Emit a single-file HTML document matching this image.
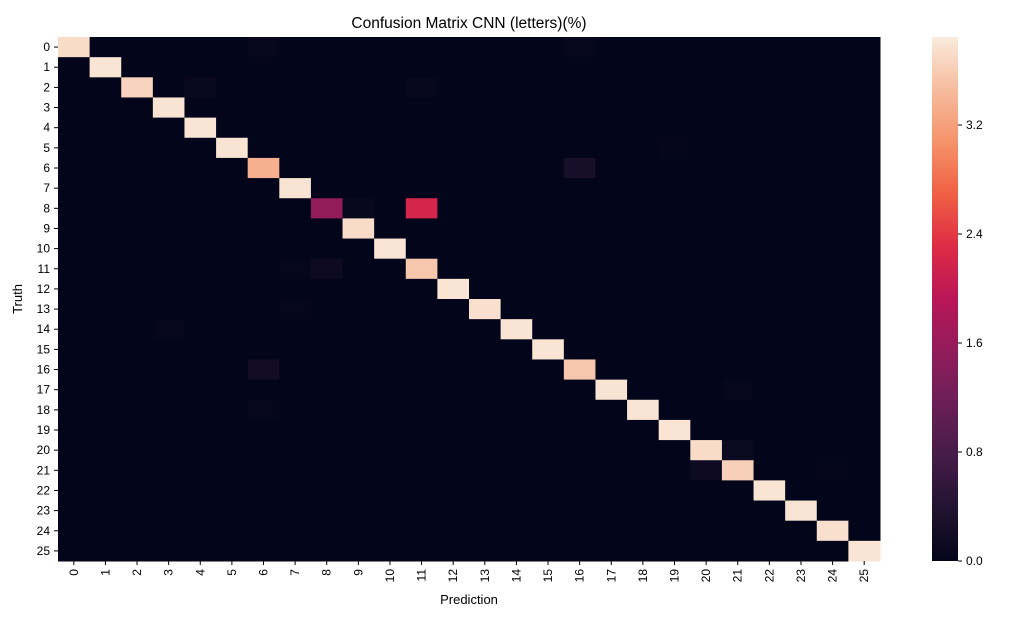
<!DOCTYPE html>
<html><head><meta charset="utf-8"><style>
body{margin:0;background:#fff;font-family:"Liberation Sans",sans-serif;}
</style></head><body>
<svg id="chart" width="1014" height="621" xmlns="http://www.w3.org/2000/svg" font-family="Liberation Sans, sans-serif">
<defs><linearGradient id="rocket" x1="0" y1="1" x2="0" y2="0">
<stop offset="0" stop-color="#03051A"/><stop offset="0.1" stop-color="#221331"/><stop offset="0.2" stop-color="#451C47"/><stop offset="0.3" stop-color="#6A1F56"/><stop offset="0.4" stop-color="#921C5B"/><stop offset="0.5" stop-color="#B91657"/><stop offset="0.6" stop-color="#DD2C45"/><stop offset="0.7" stop-color="#F06043"/><stop offset="0.8" stop-color="#F5936A"/><stop offset="0.9" stop-color="#F6BC9E"/><stop offset="1" stop-color="#FAEBDD"/>
</linearGradient></defs>
<text x="469" y="28" text-anchor="middle" font-size="15.5">Confusion Matrix CNN (letters)(%)</text>
<g id="cells"></g><g id="xt"></g><g id="yt"></g>
<text x="469" y="604" text-anchor="middle" font-size="13">Prediction</text>
<text transform="translate(22,299) rotate(-90)" text-anchor="middle" font-size="13">Truth</text>
<rect x="932" y="37" width="26" height="524" fill="url(#rocket)"/>
<g id="cb"></g>
</svg>
<script>
const labels=[...Array(26).keys()].map(String);
const diag=[3.72,3.8,3.65,3.78,3.8,3.78,3.35,3.78,1.55,3.72,3.8,3.55,3.8,3.75,3.8,3.8,3.55,3.78,3.8,3.8,3.72,3.62,3.8,3.8,3.75,3.8];
const offRows=[0,0,2,2,6,16,11,8,8,20,21,11,13,14,18,5,17,21];
const offCols=[6,16,4,11,16,6,8,11,9,21,20,7,7,3,6,19,21,24];
const offVals=[0.06,0.05,0.08,0.05,0.25,0.2,0.15,2.2,0.05,0.1,0.15,0.04,0.04,0.04,0.04,0.03,0.04,0.03];
const cbTicks=[0,0.8,1.6,2.4,3.2];
const vmax=3.846;
const X0=58,X1=880,Y0=37,Y1=561,n=26,cw=(X1-X0)/n,ch=(Y1-Y0)/n;
const stops=["#03051A","#221331","#451C47","#6A1F56","#921C5B","#B91657","#DD2C45","#F06043","#F5936A","#F6BC9E","#FAEBDD"].map(h=>[1,3,5].map(i=>parseInt(h.substr(i,2),16)));
function color(v){let t=Math.max(0,Math.min(1,v/vmax))*10;let i=Math.min(9,Math.floor(t)),f=t-i;
const c=stops[i].map((a,k)=>Math.round(a+(stops[i+1][k]-a)*f));return `rgb(${c})`;}
const ns="http://www.w3.org/2000/svg";
const M=[...Array(n)].map(()=>Array(n).fill(0));
diag.forEach((v,i)=>M[i][i]=v);
offRows.forEach((r,k)=>M[r][offCols[k]]=offVals[k]);
const g=document.getElementById('cells');
for(let r=0;r<n;r++)for(let c=0;c<n;c++){const e=document.createElementNS(ns,'rect');
e.setAttribute('x',X0+c*cw);e.setAttribute('y',Y0+r*ch);e.setAttribute('width',cw+0.5);e.setAttribute('height',ch+0.5);e.setAttribute('fill',color(M[r][c]));


g.appendChild(e);}
const xt=document.getElementById('xt'),yt=document.getElementById('yt');
labels.forEach((l,i)=>{const cx=X0+(i+0.5)*cw,cy=Y0+(i+0.5)*ch;
let t=document.createElementNS(ns,'text');t.setAttribute('transform',`translate(${cx+4},${Y1+8}) rotate(-90)`);t.setAttribute('text-anchor','end');t.setAttribute('font-size','12');t.textContent=l;


xt.appendChild(t);
let tk=document.createElementNS(ns,'line');tk.setAttribute('x1',cx);tk.setAttribute('x2',cx);tk.setAttribute('y1',Y1);tk.setAttribute('y2',Y1+4);tk.setAttribute('stroke','#000');xt.appendChild(tk);
let u=document.createElementNS(ns,'text');u.setAttribute('x',X0-8);u.setAttribute('y',cy+4);u.setAttribute('text-anchor','end');u.setAttribute('font-size','12');u.textContent=l;


yt.appendChild(u);
let tk2=document.createElementNS(ns,'line');tk2.setAttribute('x1',X0-4);tk2.setAttribute('x2',X0);tk2.setAttribute('y1',cy);tk2.setAttribute('y2',cy);tk2.setAttribute('stroke','#000');yt.appendChild(tk2);});
const cb=document.getElementById('cb');
cbTicks.forEach(v=>{const y=Y1-v/vmax*(Y1-Y0);
let l=document.createElementNS(ns,'line');l.setAttribute('x1',958);l.setAttribute('x2',962);l.setAttribute('y1',y);l.setAttribute('y2',y);l.setAttribute('stroke','#000');cb.appendChild(l);
let t=document.createElementNS(ns,'text');t.setAttribute('x',966);t.setAttribute('y',y+4);t.setAttribute('font-size','12');t.textContent=v.toFixed(1);


cb.appendChild(t);});
</script>
</body></html>
